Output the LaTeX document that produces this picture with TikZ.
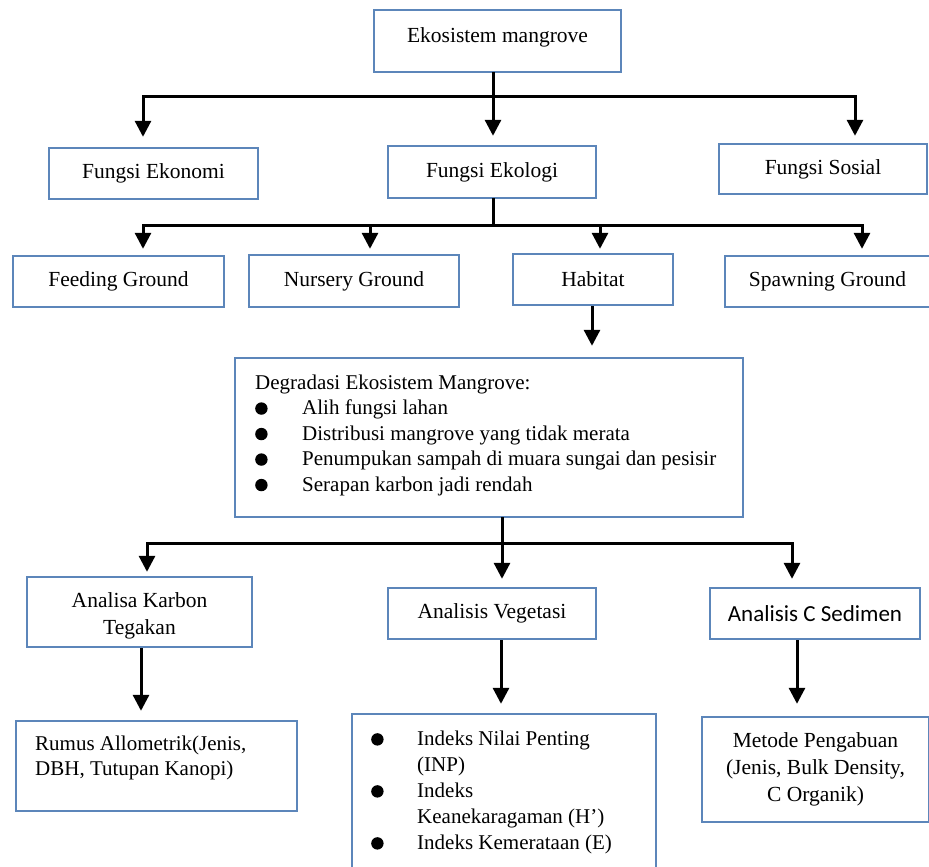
\documentclass[tikz,border=0pt]{standalone}
\usepackage{fontspec}
\setmainfont{Liberation Serif}
\newfontfamily\carl{Carlito}
\usetikzlibrary{arrows.meta}
\definecolor{boxblue}{RGB}{92,134,186}
\newcommand\bul{\tikz[baseline=-6pt]\fill[black] (0,0) circle (6.2pt);}
\begin{document}
\begin{tikzpicture}[x=1pt,y=-1pt,
  box/.style={draw=boxblue,line width=2.4pt,fill=white,inner sep=0pt,align=center,font=\fontsize{21.5}{27}\selectfont},
  txt/.style={inner sep=0pt,align=left,font=\fontsize{21}{25}\selectfont},
  conn/.style={line width=3pt,line cap=rect},
  arr/.style={line width=3pt,-{Triangle[length=16pt,width=16pt]}}]
\clip (0,0) rectangle (929,867);
\fill[white] (0,0) rectangle (929,867);

% boxes
\node[box,minimum width=247pt,minimum height=62pt] (eko) at (497.5,41) {\raisebox{4pt}[\height][\depth]{Ekosistem mangrove}};
\node[box,minimum width=209pt,minimum height=51pt] (ekon) at (153.5,173.5) {Fungsi Ekonomi};
\node[box,minimum width=208pt,minimum height=52pt] (ekol) at (492,172) {Fungsi Ekologi};
\node[box,minimum width=208pt,minimum height=50pt] (sos) at (823,169) {Fungsi Sosial};
\node[box,minimum width=211pt,minimum height=51pt] (feed) at (118.5,281.5) {Feeding Ground};
\node[box,minimum width=210pt,minimum height=52pt] (nurs) at (354,281) {Nursery Ground};
\node[box,minimum width=160pt,minimum height=51pt] (hab) at (593,279.5) {Habitat};
\node[box,minimum width=205pt,minimum height=51pt] (spawn) at (827.5,281.5) {Spawning Ground};
\node[box,minimum width=508pt,minimum height=159pt] (deg) at (489,437.5) {};
\node[box,minimum width=225pt,minimum height=70pt] (akt) at (139.5,612) {\raisebox{-4pt}[\height][\depth]{\begin{tabular}{@{}c@{}}Analisa Karbon\\Tegakan\end{tabular}}};
\node[box,minimum width=208pt,minimum height=51pt] (veg) at (492,613.5) {Analisis Vegetasi};
\node[box,minimum width=210pt,minimum height=51pt] (sed) at (815,613.5) {\carl\fontsize{23}{27}\selectfont Analisis C Sedimen};
\node[box,minimum width=281pt,minimum height=90pt] (rum) at (156.5,766) {};
\node[box,minimum width=304pt,minimum height=186pt] (ind) at (504,807) {};
\node[box,minimum width=227pt,minimum height=105pt] (met) at (815.5,769.5) {Metode Pengabuan\\(Jenis, Bulk Density,\\C Organik)};

% texts in boxes
\node[txt,anchor=north west,font=\fontsize{21}{25.5}\selectfont] (degt) at (255,371) {%
\begin{tabular}{@{}p{47pt}@{}l@{}}
\multicolumn{2}{@{}l@{}}{Degradasi Ekosistem Mangrove:}\\
\bul & Alih fungsi lahan\\
\bul & Distribusi mangrove yang tidak merata\\
\bul & Penumpukan sampah di muara sungai dan pesisir\\
\bul & Serapan karbon jadi rendah
\end{tabular}};
\node[txt,anchor=north west] (rumt) at (35,735.5) {Rumus Allometrik(Jenis,\\DBH, Tutupan Kanopi)};
\node[txt,anchor=north west,font=\fontsize{21}{26}\selectfont] (indt) at (371,727) {%
\begin{tabular}{@{}p{46pt}@{}l@{}}
\bul & Indeks Nilai Penting\\
 & (INP)\\
\bul & Indeks\\
 & Keanekaragaman (H’)\\
\bul & Indeks Kemerataan (E)
\end{tabular}};

% level 1
\coordinate (t1) at (493,96);
\coordinate (t1w) at (143,96);
\coordinate (t1e) at (855,96);
\draw[conn] (t1 |- eko.south) -- (t1);
\draw[conn] (t1w) -- (t1e);
\draw[arr,shorten >=10pt] (t1w) -- (t1w |- ekon.north);
\draw[arr,shorten >=9pt] (t1) -- (t1 |- ekol.north);
\draw[arr,shorten >=7pt] (t1e) -- (t1e |- sos.north);

% level 2
\coordinate (t2) at (493,225);
\coordinate (t2w) at (143,225);
\coordinate (t2b) at (370,225);
\coordinate (t2c) at (600,225);
\coordinate (t2e) at (862,225);
\draw[conn] (t2 |- ekol.south) -- (t2);
\draw[conn] (t2w) -- (t2e);
\draw[arr,shorten >=6pt] (t2w) -- (t2w |- feed.north);
\draw[arr,shorten >=5pt] (t2b) -- (t2b |- nurs.north);
\draw[arr,shorten >=4pt] (t2c) -- (t2c |- hab.north);
\draw[arr,shorten >=6pt] (t2e) -- (t2e |- spawn.north);

% habitat to degradasi
\coordinate (h1) at (592,0);
\draw[arr,shorten >=11pt] (h1 |- hab.south) -- (h1 |- deg.north);

% level 3
\coordinate (t3) at (502,543);
\coordinate (t3w) at (147,543);
\coordinate (t3e) at (792,543);
\draw[conn] (t3 |- deg.south) -- (t3);
\draw[conn] (t3w) -- (t3e);
\draw[arr,shorten >=4pt] (t3w) -- (t3w |- akt.north);
\draw[arr,shorten >=8pt] (t3) -- (t3 |- veg.north);
\draw[arr,shorten >=8pt] (t3e) -- (t3e |- sed.north);

% level 4
\coordinate (b1) at (141,0);
\coordinate (b2) at (501,0);
\coordinate (b3) at (797,0);
\draw[arr,shorten >=9pt] (b1 |- akt.south) -- (b1 |- rum.north);
\draw[arr,shorten >=9pt] (b2 |- veg.south) -- (b2 |- ind.north);
\draw[arr,shorten >=12pt] (b3 |- sed.south) -- (b3 |- met.north);
\end{tikzpicture}
\end{document}
